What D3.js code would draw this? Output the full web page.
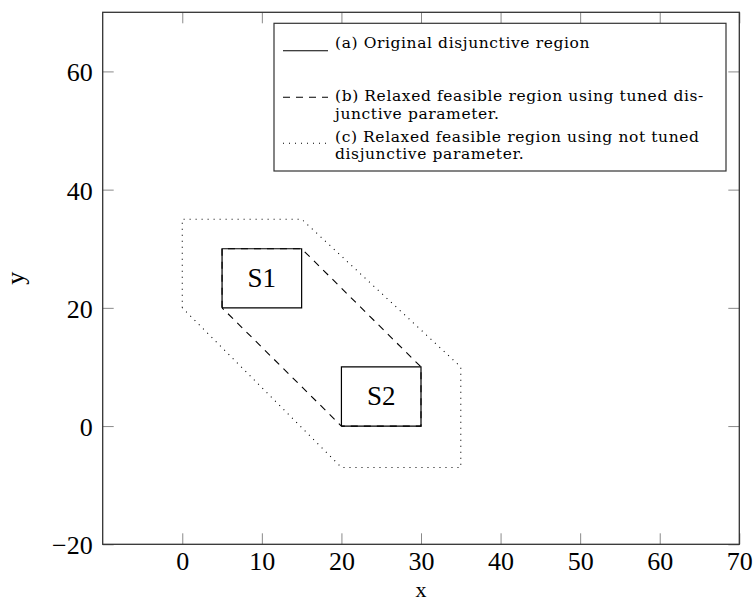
<!DOCTYPE html>
<html lang="en">
    <head>
        <meta charset="utf-8">
        <script type="text/javascript" src="https://cdn.jsdelivr.net/npm/d3@7"></script>
        <title>Disjunctive regions</title>
        <style type="text/css">
            body { margin: 0; background: #fff; }
            text { font-family: "Liberation Serif", "Times New Roman", "DejaVu Serif", serif; fill: #000; }
            .legend text { font-family: "DejaVu Serif", serif; font-size: 15.5px; letter-spacing: 0.6px; }
        </style>
    </head>
    <body>
        <script type="text/javascript">
            var w = 753;
            var h = 602;

            // data
            var xTicks = [0, 10, 20, 30, 40, 50, 60, 70];
            var yTicks = [-20, 0, 20, 40, 60];
            var regionS1 = [[5, 20], [15, 20], [15, 30], [5, 30], [5, 20]];
            var regionS2 = [[20, 0], [30, 0], [30, 10], [20, 10], [20, 0]];
            var tunedRelax = [[5, 20], [5, 30], [15, 30], [30, 10], [30, 0], [20, 0], [5, 20]];
            var untunedRelax = [[0, 20], [0, 35], [15, 35], [35, 10], [35, -7], [20, -7], [0, 20]];
            var regionNames = ["S1", "S2"];
            var regionCenters = [[10, 25], [25, 5]];
            var legendLines = [
                ["(a) Original disjunctive region"],
                ["(b) Relaxed feasible region using tuned dis-", "junctive parameter."],
                ["(c) Relaxed feasible region using not tuned", "disjunctive parameter."]
            ];

            // scales
            var xScale = d3.scaleLinear().domain([-10, 70]).range([102.7, 739.3]);
            var yScale = d3.scaleLinear().domain([-20, 70]).range([544.3, 12.3]);

            var svg = d3.select("body")
                        .append("svg")
                        .attr("width", w)
                        .attr("height", h);

            var line = d3.line()
                        .x(function(d){ return xScale(d[0]); })
                        .y(function(d){ return yScale(d[1]); });

            // axes with inner ticks on all four sides
            var tickLen = 11;
            var bottom = svg.append("g")
                .attr("transform", "translate(0," + yScale(-20) + ")")
                .call(d3.axisBottom(xScale).tickValues(xTicks).tickSizeInner(-tickLen).tickSizeOuter(0));
            bottom.selectAll("text").attr("y", 26).attr("dy", null).attr("font-size", "26px");

            svg.append("g")
                .attr("transform", "translate(0," + yScale(70) + ")")
                .call(d3.axisTop(xScale).tickValues(xTicks).tickSizeInner(-tickLen).tickSizeOuter(0).tickFormat(""));

            var left = svg.append("g")
                .attr("transform", "translate(" + xScale(-10) + ",0)")
                .call(d3.axisLeft(yScale).tickValues(yTicks).tickSizeInner(-tickLen).tickSizeOuter(0));
            left.selectAll("text").attr("x", -10).attr("dy", "0.36em").attr("font-size", "26px");

            svg.append("g")
                .attr("transform", "translate(" + xScale(70) + ",0)")
                .call(d3.axisRight(yScale).tickValues(yTicks).tickSizeInner(-tickLen).tickSizeOuter(0).tickFormat(""));

            svg.selectAll(".domain").remove();
            svg.selectAll(".tick line").attr("stroke", "#8a8a8a").attr("stroke-width", 1);
            svg.selectAll("g").attr("font-family", null);

            // solid regions
            svg.selectAll("path.region")
                .data([regionS1, regionS2])
                .enter()
                .append("path")
                .attr("class", "region")
                .attr("d", line)
                .attr("fill", "none")
                .attr("stroke", "#000")
                .attr("stroke-width", 1.2);

            // tuned relaxation (dashed)
            svg.append("path")
                .attr("d", line(tunedRelax))
                .attr("fill", "none")
                .attr("stroke", "#000")
                .attr("stroke-width", 1.1)
                .attr("stroke-dasharray", "7,6");

            // not tuned relaxation (dotted)
            svg.append("path")
                .attr("d", line(untunedRelax))
                .attr("fill", "none")
                .attr("stroke", "#000")
                .attr("stroke-width", 1.1)
                .attr("stroke-dasharray", "1,5");

            // region names
            svg.selectAll("text.name")
                .data(regionNames)
                .enter()
                .append("text")
                .attr("class", "name")
                .attr("x", function(d, i){ return xScale(regionCenters[i][0]); })
                .attr("y", function(d, i){ return yScale(regionCenters[i][1]); })
                .attr("dy", "0.33em")
                .attr("text-anchor", "middle")
                .attr("font-size", "27px")
                .text(function(d){ return d; });

            // frame
            svg.append("rect")
                .attr("x", xScale(-10))
                .attr("y", yScale(70))
                .attr("width", xScale(70) - xScale(-10))
                .attr("height", yScale(-20) - yScale(70))
                .attr("fill", "none")
                .attr("stroke", "#333")
                .attr("stroke-width", 1.3);

            // axis labels
            svg.append("text")
                .attr("x", (xScale(-10) + xScale(70)) / 2)
                .attr("y", 597)
                .attr("text-anchor", "middle")
                .attr("font-size", "22px")
                .text("x");

            svg.append("text")
                .attr("transform", "translate(24," + (yScale(-20) + yScale(70)) / 2 + ") rotate(-90)")
                .attr("text-anchor", "middle")
                .attr("font-size", "26px")
                .text("y");

            // legend
            var legend = svg.append("g").attr("class", "legend");
            legend.append("rect")
                .attr("x", 274)
                .attr("y", 23.3)
                .attr("width", 452)
                .attr("height", 147.7)
                .attr("fill", "#fff")
                .attr("stroke", "#333")
                .attr("stroke-width", 1.2);

            var sampleY = [50.7, 97.3, 143.3];
            var textY = [47.7, 101, 141.7];
            var dashes = [null, "7,6", "1,5"];
            legendLines.forEach(function(rows, i){
                legend.append("line")
                    .attr("x1", 283).attr("x2", 328)
                    .attr("y1", sampleY[i]).attr("y2", sampleY[i])
                    .attr("stroke", "#000")
                    .attr("stroke-width", 1.1)
                    .attr("stroke-dasharray", dashes[i]);
                rows.forEach(function(r, j){
                    legend.append("text")
                        .attr("x", 335)
                        .attr("y", textY[i] + j * 17.5)
                        .text(r);
                });
            });
        </script>
    </body>
</html>
